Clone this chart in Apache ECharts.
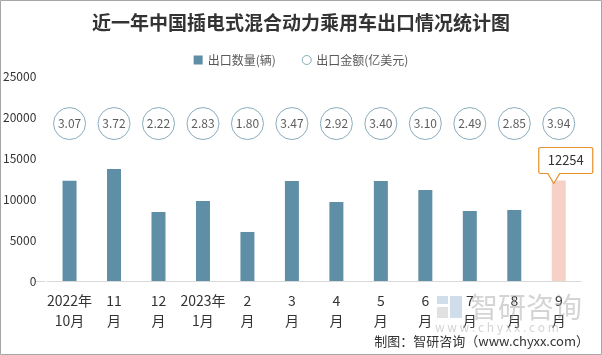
<!DOCTYPE html>
<html><head><meta charset="utf-8">
<script src="https://cdn.jsdelivr.net/npm/echarts@6/dist/echarts.min.js"></script>
<style>html,body{margin:0;padding:0;background:#fff;}#c{width:602px;height:355px;}</style>
</head><body><div id="c"></div>
<script>
var categories = ['2022年\n10月','11\n月','12\n月','2023年\n1月','2\n月','3\n月','4\n月','5\n月','6\n月','7\n月','8\n月','9\n月'];
var exportQty = [12230, 13660, 8410, 9760, 5980, 12200, 9630, 12210, 11100, 8540, 8660, 12254];
var exportAmt = [3.07, 3.72, 2.22, 2.83, 1.80, 3.47, 2.92, 3.40, 3.10, 2.49, 2.85, 3.94];
var yTicks = [0, 5000, 10000, 15000, 20000, 25000];

var CIRCLE_Y = 19200;
var BAR = '#5e8fa6', HL = '#f7d0c8';
var font = '"Noto Sans CJK SC","Microsoft YaHei",sans-serif';
var last = exportQty.length - 1;

var chart = echarts.init(document.getElementById('c'), null, {renderer:'canvas'});
chart.setOption({
  animation:false,
  backgroundColor:'#fff',
  textStyle:{fontFamily:font},
  title:{text:'近一年中国插电式混合动力乘用车出口情况统计图', left:'center', top:8,
    textStyle:{fontSize:19, fontWeight:'bold', color:'#333', fontFamily:font}},
  legend:{top:49, left:'center', itemWidth:9, itemHeight:9, itemGap:26,
    textStyle:{fontSize:12, color:'#595959'},
    data:[{name:'出口数量(辆)', icon:'rect'},
          {name:'出口金额(亿美元)', icon:'circle', itemStyle:{color:'#ffffff', borderColor:'#6d97ab', borderWidth:1}}]},
  grid:{left:45, right:21, top:76, bottom:74},
  xAxis:{type:'category', data:categories,
    axisLine:{lineStyle:{color:'#d9d9d9'}}, axisTick:{show:false},
    axisLabel:{fontSize:14, color:'#333', lineHeight:20, margin:10, interval:0}},
  yAxis:{type:'value', min:yTicks[0], max:yTicks[yTicks.length-1], interval:yTicks[1]-yTicks[0],
    splitLine:{show:false}, axisLine:{show:false}, axisTick:{show:false},
    axisLabel:{fontSize:12, color:'#333', margin:11, formatter:function(v){return String(v);}}},
  series:[
    {name:'出口数量(辆)', type:'bar', barWidth:14,
     itemStyle:{color:BAR},
     data:exportQty.map(function(v,i){ return i===last ? {value:v, itemStyle:{color:HL}} : v; }),
     markPoint:{
       symbol:'path://M2,0 H52 Q54,0 54,2 V24 Q54,26 52,26 H21 L15,36 L9,26 H2 Q0,26 0,24 V2 Q0,0 2,0 Z',
       symbolSize:[54,36], symbolOffset:[7,-15], symbolKeepAspect:false,
       itemStyle:{color:'#fff', borderColor:'#e8902c', borderWidth:1},
       label:{show:true, offset:[0,-5], color:'#333', fontSize:13,
         formatter:function(p){return String(p.value);}},
       data:[{coord:[last, exportQty[last]], value:exportQty[last]}]
     }},
    {name:'出口金额(亿美元)', type:'scatter', symbol:'circle', symbolSize:32,
     itemStyle:{color:'#fff', borderColor:'#6d97ab', borderWidth:1},
     label:{show:true, position:'inside', color:'#333', fontSize:12,
       formatter:function(p){return exportAmt[p.dataIndex].toFixed(2);}},
     data:exportAmt.map(function(v,i){return [i, CIRCLE_Y];})}
  ],
  graphic:[
    {type:'rect', shape:{x:0.5,y:0.5,width:601,height:354}, style:{fill:'none', stroke:'#a6a6a6', lineWidth:1}, z:100},
    {type:'line', shape:{x1:35,y1:281.5,x2:45,y2:281.5}, style:{stroke:'#d9d9d9', lineWidth:1}},
    {type:'rect', shape:{x:437,y:296,width:11,height:8}, style:{fill:'rgba(170,195,220,0.55)'}, z:50},
    {type:'rect', shape:{x:450,y:296,width:12,height:22}, style:{fill:'rgba(170,195,220,0.55)'}, z:50},
    {type:'rect', shape:{x:437,y:307,width:11,height:11}, style:{fill:'rgba(200,200,200,0.55)'}, z:50},
    {type:'text', left:470, top:293, z:50, style:{text:'智研咨询', font:'28px '+font, fill:'rgba(160,160,160,0.45)'}},
    {type:'text', left:435, top:321, z:50, style:{text:'w w w . c h y x x . c o m', font:'12px '+font, fill:'rgba(170,170,170,0.5)'}},
    {type:'text', right:13, top:335, z:60, style:{text:'制图：智研咨询（www.chyxx.com）', font:'13px '+font, fill:'#333'}}
  ]
});
</script></body></html>
